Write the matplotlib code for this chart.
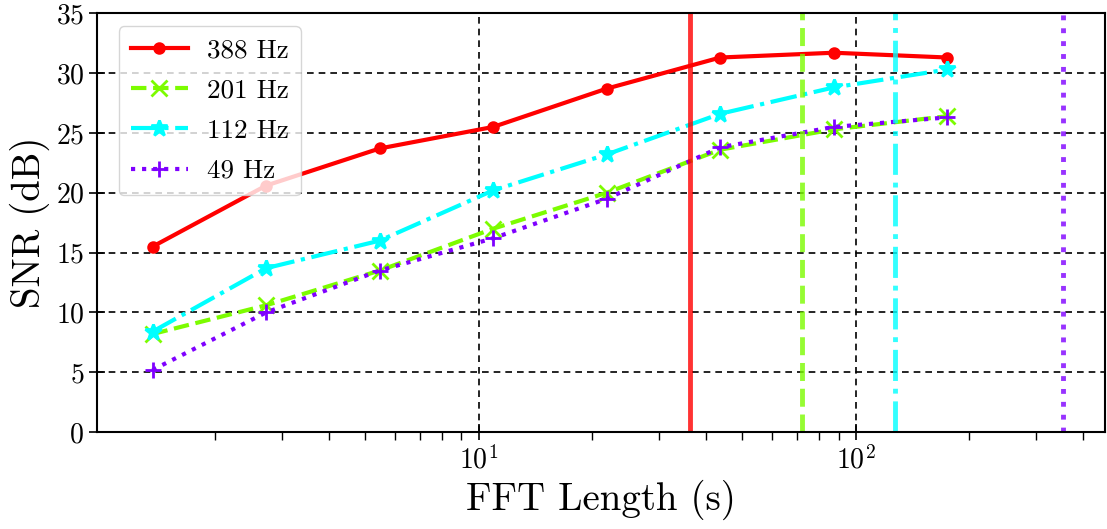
import matplotlib
matplotlib.use('Agg')
import matplotlib.pyplot as plt

plt.rcParams['font.family'] = 'serif'
plt.rcParams['font.serif'] = ['cmr10']
plt.rcParams['mathtext.fontset'] = 'cm'
plt.rcParams['axes.formatter.use_mathtext'] = True
plt.rcParams['axes.unicode_minus'] = False

# Długości FFT (s) i SNR (dB) dla każdej częstotliwości
fft_len = [1.365, 2.73, 5.46, 10.92, 21.84, 43.69, 87.38, 174.76]
snr_388 = [15.5, 20.6, 23.7, 25.5, 28.7, 31.3, 31.7, 31.3]
snr_201 = [8.2, 10.6, 13.5, 17.0, 20.0, 23.6, 25.3, 26.4]
snr_112 = [8.4, 13.7, 16.0, 20.2, 23.2, 26.6, 28.8, 30.3]
snr_49 = [5.2, 10.0, 13.5, 16.2, 19.5, 23.8, 25.5, 26.3]

labels = ['388 Hz', '201 Hz', '112 Hz', '49 Hz']
limity = [36.4, 72.0, 127.0, 355.0]  # pionowe linie dla każdej częstotliwości

kolory = ['#ff0000', '#7cfc00', '#00ffff', '#7f00ff']
style = ['-', '--', '-.', ':']
markery = ['.', 'x', '*', '+']

fig, ax = plt.subplots(figsize=(11.07, 5.29), dpi=100)

for snr, lab, c, ls, m in zip([snr_388, snr_201, snr_112, snr_49], labels, kolory, style, markery):
    ax.plot(fft_len, snr, color=c, linestyle=ls, marker=m, markersize=12 if m != '.' else 14,
            markeredgewidth=2, linewidth=3, label=lab)

for x, c, ls in zip(limity, kolory, style):
    ax.axvline(x, color=c, linestyle=ls, linewidth=3.5, alpha=0.8)

ax.set_xscale('log')
ax.set_xlim(0.975, 457)
ax.set_xticks([10, 100])
ax.set_ylim(0, 35)
ax.set_yticks(range(0, 36, 5))
ax.grid(True, which='major', color='black', linestyle=(0, (4, 3)), linewidth=1.2)
ax.tick_params(axis='both', which='major', direction='inout', length=12, width=1.2, labelsize=20)
ax.tick_params(axis='x', which='minor', length=6, width=1)
for s in ax.spines.values():
    s.set_linewidth(1.5)

ax.set_xlabel('FFT Length (s)', fontsize=28)
ax.set_ylabel('SNR (dB)', fontsize=28)
ax.legend(loc='upper left', fontsize=19.5, handlelength=2.1, framealpha=0.8,
          borderpad=0.45, labelspacing=0.6, handletextpad=0.7, borderaxespad=0,
          bbox_to_anchor=(0.021, 0.969))

plt.subplots_adjust(left=0.088, right=0.998, top=0.975, bottom=0.183)
plt.savefig('out.png', dpi=100)
